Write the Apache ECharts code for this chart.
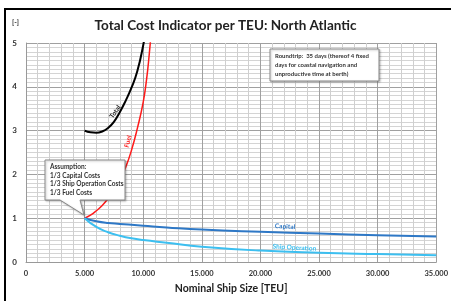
<!DOCTYPE html>
<html>
<head>
<meta charset="utf-8">
<script src="https://cdn.jsdelivr.net/npm/echarts@6/dist/echarts.min.js"></script>
<style>
  html, body { margin: 0; padding: 0; background: #fff; overflow: hidden; }
  #chart { width: 451px; height: 301px; }
  /* Rahmen links und oben */
  #frame {
    position: absolute; left: 4px; top: 8px; width: 500px; height: 400px;
    border-left: 2px solid #000; border-top: 2px solid #000;
    pointer-events: none;
  }
</style>
</head>
<body>
<div id="chart"></div>
<div id="frame"></div>
<script>
// Daten
var xTicks = [0, 5000, 10000, 15000, 20000, 25000, 30000, 35000];
var yTicks = [0, 1, 2, 3, 4, 5];

var totalSizes = [5000, 5500, 6000, 6500, 7000, 7500, 8000, 8500, 9000, 9500, 10000, 10200];
var totalValues = [3.0, 2.96, 2.95, 2.98, 3.06, 3.2, 3.42, 3.68, 3.98, 4.36, 4.95, 5.3];

var fuelSizes = [5000, 5500, 6000, 6500, 7000, 7500, 8000, 8500, 9000, 9500, 10000, 10300, 10500, 10700];
var fuelValues = [1.0, 1.07, 1.17, 1.29, 1.45, 1.64, 1.87, 2.16, 2.55, 3.05, 3.65, 4.2, 4.7, 5.3];

var capitalSizes = [5000, 6000, 7000, 8000, 9500, 10000, 12000, 15000, 20000, 25000, 30000, 35000];
var capitalValues = [1.0, 0.93, 0.89, 0.87, 0.84, 0.83, 0.79, 0.74, 0.69, 0.65, 0.61, 0.585];

var shipOpSizes = [5000, 6000, 7000, 8000, 9000, 10000, 12000, 15000, 20000, 25000, 30000, 35000];
var shipOpValues = [1.0, 0.8, 0.68, 0.6, 0.54, 0.5, 0.44, 0.35, 0.26, 0.21, 0.18, 0.155];

var FONT = 'Lato';

function pairs(xs, ys) {
    return xs.map(function (x, i) { return [x, ys[i]]; });
}

// Beschriftung direkt an der Kurve
function curveLabel(text, x, y, rot, color) {
    return {
        coord: [x, y],
        symbol: 'circle',
        symbolSize: 0,
        label: {
            show: true,
            formatter: text,
            rotate: rot,
            color: color,
            fontFamily: FONT,
            fontWeight: 'bold',
            fontSize: 6.5,
            position: 'inside'
        }
    };
}

var myChart = echarts.init(document.getElementById('chart'));

var option = {
    animation: false,
    title: {
        text: 'Total Cost Indicator per TEU: North Atlantic',
        left: 'center',
        top: 14,
        textStyle: {
            fontFamily: FONT,
            fontWeight: 'bold',
            fontSize: 13.5,
            color: '#222'
        }
    },
    grid: {
        left: 26,
        right: 7,
        top: 43,
        bottom: 39
    },
    xAxis: {
        type: 'value',
        min: xTicks[0],
        max: xTicks[xTicks.length - 1],
        interval: 5000,
        name: 'Nominal Ship Size [TEU]',
        nameLocation: 'middle',
        nameGap: 20,
        nameTextStyle: {
            fontFamily: FONT,
            fontWeight: 'bold',
            fontSize: 10.5,
            color: '#222'
        },
        axisLine: { lineStyle: { color: '#999' } },
        axisTick: { show: false },
        axisLabel: {
            margin: 8,
            fontFamily: FONT,
            fontWeight: 'bold',
            fontSize: 7.5,
            color: '#333',
            formatter: function (v) {
                return v === 0 ? '0' : (v / 1000) + '.000';
            }
        },
        splitLine: { lineStyle: { color: '#a0a0a0', width: 1 } },
        minorTick: { show: false, splitNumber: 5 },
        minorSplitLine: { show: true, lineStyle: { color: '#cfcfcf', width: 1 } }
    },
    yAxis: {
        type: 'value',
        min: yTicks[0],
        max: yTicks[yTicks.length - 1],
        interval: 1,
        axisLine: { show: true, lineStyle: { color: '#999' } },
        axisTick: { show: false },
        axisLabel: {
            margin: 9,
            fontFamily: FONT,
            fontWeight: 'bold',
            fontSize: 8,
            color: '#333'
        },
        splitLine: { lineStyle: { color: '#a0a0a0', width: 1 } },
        minorTick: { show: false, splitNumber: 10 },
        minorSplitLine: { show: true, lineStyle: { color: '#d4d4d4', width: 1 } }
    },
    series: [{
        name: 'Total',
        type: 'line',
        smooth: true,
        showSymbol: false,
        data: pairs(totalSizes, totalValues),
        lineStyle: { color: '#000', width: 2 },
        markPoint: { data: [curveLabel('Total', 7610, 3.43, 55, '#222')] }
    }, {
        name: 'Fuel',
        type: 'line',
        smooth: true,
        showSymbol: false,
        data: pairs(fuelSizes, fuelValues),
        lineStyle: { color: '#ff1a1a', width: 1.5 },
        markPoint: { data: [curveLabel('Fuel', 8700, 2.75, 75, '#ff1a1a')] }
    }, {
        name: 'Capital',
        type: 'line',
        smooth: true,
        showSymbol: false,
        data: pairs(capitalSizes, capitalValues),
        lineStyle: { color: '#2e78c6', width: 2 },
        markPoint: { data: [curveLabel('Capital', 22100, 0.81, -3, '#2e78c6')] }
    }, {
        name: 'Ship Operation',
        type: 'line',
        smooth: true,
        showSymbol: false,
        data: pairs(shipOpSizes, shipOpValues),
        lineStyle: { color: '#3cbff0', width: 2 },
        markPoint: { data: [curveLabel('Ship Operation', 22900, 0.33, -3, '#3cbff0')] }
    }],
    graphic: [{
        type: 'text',
        x: 12,
        y: 19,
        style: { text: '[-]', font: 'bold 7px Lato', fill: '#333' }
    }, {
        // Sprechblase Annahme
        type: 'polygon',
        z: 50,
        shape: {
            points: [[45, 160], [125, 160], [125, 200], [80, 200], [84, 215], [60, 200], [45, 200]]
        },
        style: { fill: '#fff', stroke: '#8a8a8a', lineWidth: 1, shadowBlur: 2, shadowColor: 'rgba(0,0,0,0.25)', shadowOffsetX: 1, shadowOffsetY: 1 }
    }, {
        type: 'text',
        z: 51,
        x: 50,
        y: 163,
        style: {
            text: 'Assumption:\n1/3 Capital Costs\n1/3 Ship Operation Costs\n1/3 Fuel Costs',
            font: 'bold 6.5px Lato',
            lineHeight: 8.5,
            fill: '#333'
        }
    }, {
        type: 'rect',
        z: 50,
        shape: { x: 270, y: 49, width: 109, height: 32 },
        style: { fill: '#fff', stroke: '#8a8a8a', lineWidth: 1, shadowBlur: 2, shadowColor: 'rgba(0,0,0,0.25)', shadowOffsetX: 1, shadowOffsetY: 1 }
    }, {
        type: 'text',
        z: 51,
        x: 275,
        y: 52,
        style: {
            text: 'Roundtrip:  35 days (thereof 4 fixed\ndays for coastal navigation and\nunproductive time at berth)',
            font: 'bold 6px Lato',
            lineHeight: 8.7,
            fill: '#333'
        }
    }]
};

myChart.setOption(option);
window.addEventListener('resize', function () {
    myChart.resize();
});
</script>
</body>
</html>
